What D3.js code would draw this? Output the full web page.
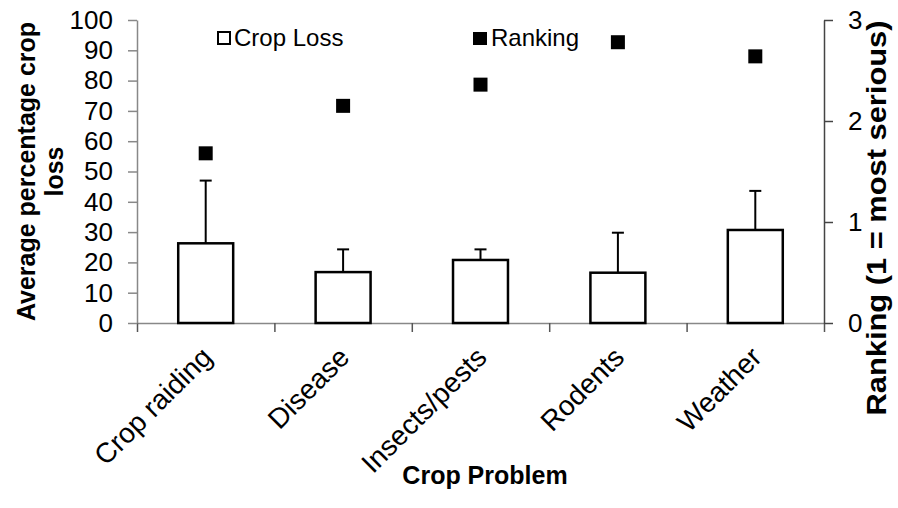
<!DOCTYPE html>
<html><head><meta charset="utf-8">
<script src="https://cdn.jsdelivr.net/npm/d3@7"></script>
<style>body{margin:0;background:#fff}svg{display:block}text{font-family:"Liberation Sans",Arial,sans-serif;fill:#000}</style>
</head><body>
<svg id="c" width="898" height="508"></svg>
<script>
const categories = ["Crop raiding","Disease","Insects/pests","Rodents","Weather"];
const cropLoss = [26.3, 16.8, 20.8, 16.6, 30.7];
const cropLossErr = [20.7, 7.5, 3.5, 13.2, 12.9];
const ranking = [1.68, 2.15, 2.36, 2.78, 2.64];
const leftTicks = [0,10,20,30,40,50,60,70,80,90,100];
const rightTicks = [0,1,2,3];

const svg = d3.select("#c");
const L = 137, R = 824, T = 20, B = 323;
const x = d3.scaleBand().domain(categories).range([L, R]);
const xb = d3.scaleLinear().domain([0, categories.length]).range([L, R]);
const y = d3.scaleLinear().domain([0, 100]).range([B, T]);
const y2 = d3.scaleLinear().domain([0, 3]).range([B, T]);
const FF = '"Liberation Sans",Arial,sans-serif';

// bottom axis (category boundaries)
const gx = svg.append("g").attr("transform", `translate(0,${B})`)
  .call(d3.axisBottom(xb).tickValues(d3.range(0, categories.length + 1)).tickSize(9).tickSizeOuter(0).tickFormat(""));
gx.select(".domain").attr("stroke", "#888").attr("stroke-width", 1.5);
gx.selectAll(".tick line").attr("stroke", "#555").attr("stroke-width", 1.5);

// left axis
const gl = svg.append("g").attr("transform", `translate(${L},0)`)
  .call(d3.axisLeft(y).tickValues(leftTicks).tickSize(9).tickSizeOuter(0).tickPadding(15));
gl.select(".domain").attr("stroke", "#888").attr("stroke-width", 1.5);
gl.selectAll(".tick line").attr("stroke", "#888").attr("stroke-width", 1.5);
gl.selectAll(".tick text").attr("font-size", 26).attr("fill", "#000").style("font-family", FF);

// right axis
const gr = svg.append("g").attr("transform", `translate(${R},0)`)
  .call(d3.axisRight(y2).tickValues(rightTicks).tickSize(9).tickSizeOuter(0).tickPadding(15).tickFormat(d3.format("d")));
gr.select(".domain").attr("stroke", "#444").attr("stroke-width", 1.5);
gr.selectAll(".tick line").attr("stroke", "#444").attr("stroke-width", 1.5);
gr.selectAll(".tick text").attr("font-size", 26).attr("fill", "#000").style("font-family", FF);

const bw = x.bandwidth() * 0.4;
// bars
svg.append("g").selectAll("rect").data(categories).join("rect")
  .attr("x", d => x(d) + (x.bandwidth() - bw) / 2)
  .attr("y", (d, i) => y(cropLoss[i]))
  .attr("width", bw)
  .attr("height", (d, i) => y(0) - y(cropLoss[i]))
  .attr("fill", "#fff").attr("stroke", "#000").attr("stroke-width", 2.5);

// error bars
const eg = svg.append("g").attr("stroke", "#000").attr("stroke-width", 2);
categories.forEach((c, i) => {
  const cx = x(c) + x.bandwidth() / 2;
  eg.append("line").attr("x1", cx).attr("x2", cx).attr("y1", y(cropLoss[i])).attr("y2", y(cropLoss[i] + cropLossErr[i]));
  eg.append("line").attr("x1", cx - 6).attr("x2", cx + 6).attr("y1", y(cropLoss[i] + cropLossErr[i])).attr("y2", y(cropLoss[i] + cropLossErr[i]));
});

// ranking markers
const ms = 14;
svg.append("g").selectAll("rect").data(categories).join("rect")
  .attr("x", d => x(d) + x.bandwidth() / 2 - ms / 2)
  .attr("y", (d, i) => y2(ranking[i]) - ms / 2)
  .attr("width", ms).attr("height", ms).attr("fill", "#000");

// category labels
svg.append("g").selectAll("text").data(categories).join("text")
  .attr("transform", d => `translate(${x(d) + x.bandwidth() / 2 + 8},${B + 36}) rotate(-45)`)
  .attr("text-anchor", "end").attr("font-size", 28).text(d => d);

// legend
svg.append("rect").attr("x", 218).attr("y", 32).attr("width", 12).attr("height", 12)
  .attr("fill", "#fff").attr("stroke", "#000").attr("stroke-width", 2);
svg.append("text").attr("x", 234).attr("y", 46).attr("font-size", 24).text("Crop Loss");
svg.append("rect").attr("x", 473).attr("y", 32).attr("width", 14).attr("height", 13).attr("fill", "#000");
svg.append("text").attr("x", 491).attr("y", 46).attr("font-size", 24).text("Ranking");

// axis titles
const cy = (T + B) / 2;
const yt = svg.append("text").attr("transform", `translate(35,${cy}) rotate(-90)`)
  .attr("text-anchor", "middle").attr("font-size", 25).attr("font-weight", "bold");
yt.append("tspan").attr("x", 0).attr("dy", 0).text("Average percentage crop");
yt.append("tspan").attr("x", 0).attr("dy", 28).text("loss");

svg.append("text").attr("transform", `translate(886,218) rotate(-90)`)
  .attr("text-anchor", "middle").attr("font-size", 27).attr("font-weight", "bold")
  .attr("textLength", 395).attr("lengthAdjust", "spacingAndGlyphs")
  .text("Ranking (1 = most serious)");

svg.append("text").attr("x", 485).attr("y", 484).attr("text-anchor", "middle")
  .attr("font-size", 25).attr("font-weight", "bold").text("Crop Problem");
</script>
</body></html>
